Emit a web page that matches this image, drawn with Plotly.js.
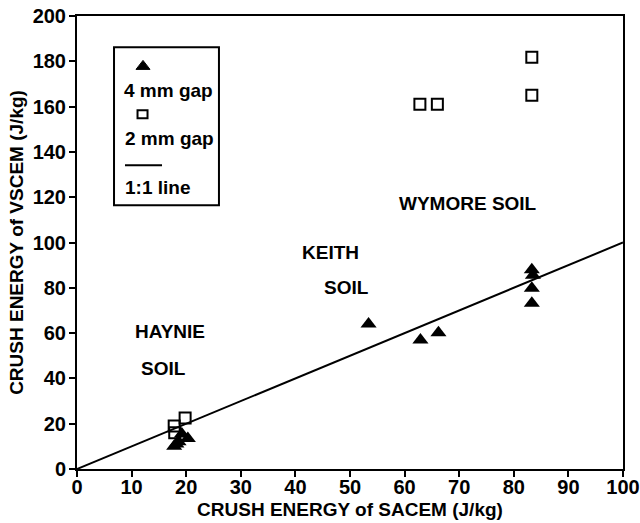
<!DOCTYPE html>
<html>
<head>
<meta charset="utf-8">
<script src="https://cdn.plot.ly/plotly-3.0.1.min.js"></script>
<style>
html,body{margin:0;padding:0;background:#fff;}
#chart{width:640px;height:523px;}
</style>
</head>
<body>
<div id="chart"></div>
<script>
// 4 mm gap (filled triangles)
const gap4X = [17.8, 18.6, 20.3, 19.2, 18.2, 53.4, 62.9, 66.2, 83.3, 83.5, 83.3, 83.3];
const gap4Y = [10.0, 12.0, 13.5, 15.5, 11.0, 64.0, 57.0, 60.2, 88.0, 85.5, 79.8, 73.2];
// 2 mm gap (open squares)
const gap2X = [19.8, 17.8, 17.9, 62.8, 66.0, 83.3, 83.3];
const gap2Y = [22.5, 19.0, 16.0, 161.0, 161.0, 181.8, 165.0];
// 1:1 line
const lineX = [0, 100];
const lineY = [0, 100];
// soil labels
const soilText = ["HAYNIE", "SOIL", "KEITH", "SOIL", "WYMORE SOIL"];
const soilX = [17.0, 15.9, 46.4, 49.3, 71.6];
const soilY = [60.6, 44.3, 95.8, 80.0, 117.4];
// axis ticks
const xTicks = [0, 10, 20, 30, 40, 50, 60, 70, 80, 90, 100];
const yTicks = [0, 20, 40, 60, 80, 100, 120, 140, 160, 180, 200];
const legendText = ["4 mm gap", "2 mm gap", "1:1 line"];

const FONT = "Arial, 'Liberation Sans', Helvetica, sans-serif";
const txtFont = {family: FONT, size: 19, color: "#000", weight: "bold"};

const traces = [
  {x: lineX, y: lineY, mode: "lines", line: {color: "#000", width: 2}, hoverinfo: "skip"},
  {x: gap4X, y: gap4Y, mode: "markers", marker: {symbol: "triangle-up", size: 14, color: "#000"}},
  {x: gap2X, y: gap2Y, mode: "markers",
   marker: {symbol: "square-open", size: 11, color: "#000", line: {width: 2, color: "#000"}}}
];

const annotations = soilText.map((t, i) => ({
  x: soilX[i], y: soilY[i], xref: "x", yref: "y", text: t, showarrow: false,
  font: txtFont, xanchor: "center", yanchor: "middle"
}));
const legY = [0.8358, 0.7289, 0.6208];
const legX = [0.0830, 0.0848, 0.0848];
legendText.forEach((t, i) => annotations.push({
  x: legX[i], y: legY[i], xref: "paper", yref: "paper", text: t, showarrow: false,
  font: txtFont, xanchor: "left", yanchor: "middle"
}));

const shapes = [
  {type: "rect", xref: "paper", yref: "paper", x0: 0.0678, x1: 0.260, y0: 0.582, y1: 0.931,
   line: {color: "#000", width: 2}, fillcolor: "rgba(0,0,0,0)"},
  {type: "path", xref: "paper", yref: "paper", xsizemode: "pixel", ysizemode: "pixel",
   xanchor: 0.1209, yanchor: 0.891, path: "M -7,-4 L 7,-4 L 0,5 Z",
   fillcolor: "#000", line: {color: "#000", width: 1}},
  {type: "rect", xref: "paper", yref: "paper", xsizemode: "pixel", ysizemode: "pixel",
   xanchor: 0.1200, yanchor: 0.783, x0: -5, x1: 5, y0: -4, y1: 4,
   line: {color: "#000", width: 2}, fillcolor: "rgba(0,0,0,0)"},
  {type: "line", xref: "paper", yref: "paper", x0: 0.0879, x1: 0.1557, y0: 0.6704, y1: 0.6704,
   line: {color: "#000", width: 2}}
];

const axisCommon = {
  showgrid: false, zeroline: false, showline: true, mirror: true,
  linecolor: "#000", linewidth: 2, ticks: "outside", ticklen: 6, tickwidth: 2, tickcolor: "#000",
  tickfont: {family: FONT, size: 20, color: "#000", weight: "bold"}
};

const layout = {
  width: 640, height: 523,
  margin: {l: 77, r: 17, t: 16, b: 54},
  paper_bgcolor: "#fff", plot_bgcolor: "#fff",
  showlegend: false,
  xaxis: Object.assign({}, axisCommon, {
    range: [0, 100], tickvals: xTicks, ticktext: xTicks.map(String),
    ticklabelstandoff: -7,
    title: {text: "CRUSH ENERGY of SACEM (J/kg)", font: txtFont, standoff: 6}
  }),
  yaxis: Object.assign({}, axisCommon, {
    range: [0, 200], tickvals: yTicks, ticktext: yTicks.map(String),
    ticklabelstandoff: -1,
    title: {text: "CRUSH ENERGY of VSCEM (J/kg)", font: txtFont, standoff: 4}
  }),
  annotations: annotations,
  shapes: shapes
};

Plotly.newPlot("chart", traces, layout, {staticPlot: true, displayModeBar: false});
</script>
</body>
</html>
